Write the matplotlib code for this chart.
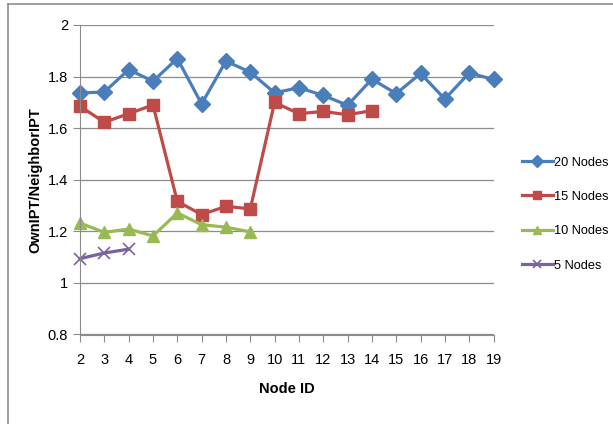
import matplotlib.pyplot as plt
from matplotlib.lines import Line2D

plt.rcParams['font.family'] = ['Liberation Sans', 'DejaVu Sans']

# data
nodes_20 = list(range(2, 20))
ipt_20 = [1.737, 1.740, 1.827, 1.782, 1.870, 1.694, 1.860, 1.817, 1.737,
          1.757, 1.727, 1.689, 1.790, 1.734, 1.812, 1.713, 1.814, 1.789]

nodes_15 = list(range(2, 15))
ipt_15 = [1.685, 1.623, 1.656, 1.690, 1.316, 1.265, 1.297, 1.287, 1.700,
          1.656, 1.665, 1.652, 1.668]

nodes_10 = list(range(2, 10))
ipt_10 = [1.232, 1.196, 1.209, 1.182, 1.271, 1.226, 1.216, 1.198]

nodes_5 = [2, 3, 4]
ipt_5 = [1.094, 1.116, 1.131]

fig = plt.figure(figsize=(6.13, 4.24), dpi=100)
ax = fig.add_axes([80 / 613, 1 - 334.5 / 424, 413.5 / 613, 309.5 / 424])

ax.plot(nodes_20, ipt_20, color='#4A7EBB', lw=2.3, marker='D', ms=8.5, label='20 Nodes', clip_on=False)
ax.plot(nodes_15, ipt_15, color='#BE4B48', lw=2.3, marker='s', ms=9, label='15 Nodes', clip_on=False)
ax.plot(nodes_10, ipt_10, color='#98B954', lw=2.3, marker='^', ms=9, label='10 Nodes', clip_on=False)
ax.plot(nodes_5, ipt_5, color='#7D60A0', lw=2.3, marker='x', ms=8, mew=1.2, label='5 Nodes', clip_on=False)

ax.set_xlim(2, 19)
ax.set_ylim(0.8, 2.0)
ax.set_xticks(range(2, 20))
ax.set_yticks([0.8, 1, 1.2, 1.4, 1.6, 1.8, 2])
ax.set_yticklabels(['0.8', '1', '1.2', '1.4', '1.6', '1.8', '2'])
ax.grid(axis='y', color='#8c8c8c', lw=0.9)
ax.set_axisbelow(True)

for s in ['top', 'right']:
    ax.spines[s].set_visible(False)
for s in ['left', 'bottom']:
    ax.spines[s].set_color('#8c8c8c')
ax.tick_params(axis='both', colors='#8c8c8c', labelcolor='black', labelsize=10.5, length=5)
ax.tick_params(axis='x', pad=8)

ax.set_xlabel('Node ID', fontsize=10.5, fontweight='bold', labelpad=11)
ax.set_ylabel('OwnIPT/NeighborIPT', fontsize=10.5, fontweight='bold', labelpad=4)

ax.legend(loc='center left', bbox_to_anchor=(1.041, 0.389), frameon=False,
          fontsize=9.2, labelspacing=1.75, handlelength=2.4, handletextpad=0.1,
          markerscale=0.7)

# outer chart frame
fig.add_artist(Line2D([8 / 613, 8 / 613], [0, 1 - 3.5 / 424], color='#8c8c8c', lw=1.2))
fig.add_artist(Line2D([8 / 613, 1], [1 - 3.5 / 424, 1 - 3.5 / 424], color='#8c8c8c', lw=1.2))

fig.savefig('out.png', dpi=100)
